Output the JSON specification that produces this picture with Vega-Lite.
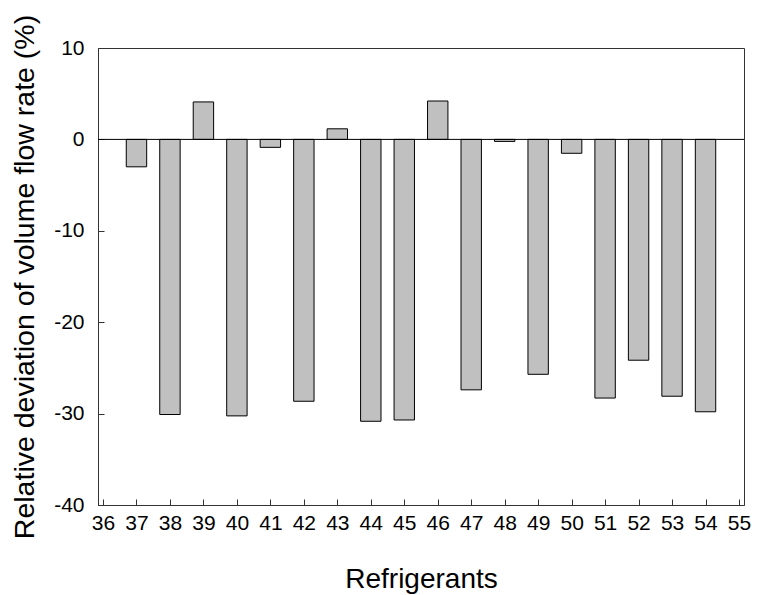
{
  "$schema": "https://vega.github.io/schema/vega-lite/v6.json",
  "width": 646,
  "height": 457,
  "autosize": "none",
  "padding": {"left": 98, "top": 48, "right": 16, "bottom": 90},
  "background": "white",
  "config": {
    "font": "Liberation Sans",
    "view": {"stroke": "#333", "strokeWidth": 1},
    "axis": {"grid": false, "domainColor": "#333", "tickColor": "#333", "labelColor": "#000", "titleColor": "#000", "labelFont": "Liberation Sans", "titleFont": "Liberation Sans", "titleFontWeight": "normal"}
  },
  "data": {
    "values": [
      {"Refrigerant": 37, "Deviation": -3.0},
      {"Refrigerant": 38, "Deviation": -30.1},
      {"Refrigerant": 39, "Deviation": 4.1},
      {"Refrigerant": 40, "Deviation": -30.25},
      {"Refrigerant": 41, "Deviation": -0.87},
      {"Refrigerant": 42, "Deviation": -28.65},
      {"Refrigerant": 43, "Deviation": 1.16},
      {"Refrigerant": 44, "Deviation": -30.84},
      {"Refrigerant": 45, "Deviation": -30.7},
      {"Refrigerant": 46, "Deviation": 4.2},
      {"Refrigerant": 47, "Deviation": -27.4},
      {"Refrigerant": 48, "Deviation": -0.22},
      {"Refrigerant": 49, "Deviation": -25.7},
      {"Refrigerant": 50, "Deviation": -1.52},
      {"Refrigerant": 51, "Deviation": -28.3},
      {"Refrigerant": 52, "Deviation": -24.16},
      {"Refrigerant": 53, "Deviation": -28.1},
      {"Refrigerant": 54, "Deviation": -29.8}
    ]
  },
  "layer": [
    {
      "mark": {"type": "bar", "orient": "vertical", "size": 20.4, "fill": "#c0c0c0", "stroke": "#000", "strokeWidth": 1},
      "encoding": {
        "x": {
          "field": "Refrigerant", "type": "quantitative",
          "scale": {"domain": [36, 55], "nice": false, "zero": false},
          "axis": {
            "orient": "bottom",
            "title": "Refrigerants", "titleFontSize": 28, "titleBaseline": "alphabetic", "titleY": 82,
            "values": [36,37,38,39,40,41,42,43,44,45,46,47,48,49,50,51,52,53,54,55],
            "labelExpr": "'' + datum.value", "labelFontSize": 21, "labelPadding": 7, "ticks": false, "labelFlush": false, "labelOverlap": false
          }
        },
        "y": {
          "field": "Deviation", "type": "quantitative",
          "scale": {"domain": [-40, 10], "nice": false},
          "axis": {
            "orient": "left",
            "title": "Relative deviation of volume flow rate (%)", "titleFontSize": 28.5, "titleBaseline": "alphabetic", "titleX": -65,
            "values": [-40, -30, -20, -10, 0, 10],
            "labelExpr": "'' + datum.value", "labelFontSize": 21, "labelPadding": 14, "ticks": false, "labelFlush": false, "labelOverlap": false
          }
        }
      }
    },
    {
      "mark": {"type": "point", "opacity": 0},
      "encoding": {
        "x": {
          "field": "Refrigerant", "type": "quantitative",
          "axis": {
            "orient": "top", "offset": -457, "title": null, "labels": false, "domain": false,
            "values": [36,37,38,39,40,41,42,43,44,45,46,47,48,49,50,51,52,53,54,55],
            "ticks": true, "tickSize": 6, "tickColor": "#333", "tickWidth": 1
          }
        },
        "y": {
          "field": "Deviation", "type": "quantitative",
          "axis": {
            "orient": "right", "offset": -646, "title": null, "labels": false, "domain": false,
            "values": [-40, -30, -20, -10, 0, 10],
            "ticks": true, "tickSize": 6, "tickColor": "#333", "tickWidth": 1
          }
        }
      }
    },
    {
      "data": {"values": [{"zero": 0}]},
      "mark": {"type": "rule", "color": "#000", "strokeWidth": 1},
      "encoding": {"y": {"field": "zero", "type": "quantitative", "axis": null}}
    }
  ]
}
